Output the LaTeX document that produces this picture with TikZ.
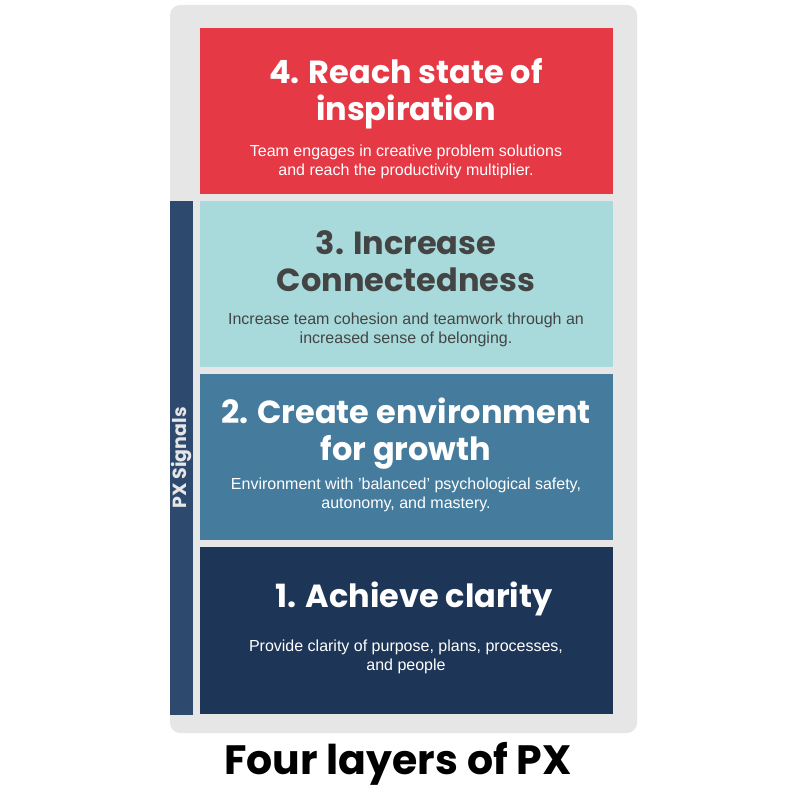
\documentclass[tikz,border=0pt]{standalone}
\usepackage{fontspec}
\setmainfont{Liberation Sans}
\newfontfamily\titlefont{Poppins}
\definecolor{cred}{HTML}{E63946}
\definecolor{cteal}{HTML}{A8DADC}
\definecolor{cblue}{HTML}{457B9D}
\definecolor{cnavy}{HTML}{1D3557}
\definecolor{cbar}{HTML}{2D4A6E}
\definecolor{cgray}{HTML}{E6E6E6}
\definecolor{cdark}{HTML}{444444}
\begin{document}
\begin{tikzpicture}[x=1pt,y=-1pt,
  layer/.style={minimum width=413pt,minimum height=166pt,anchor=north west,inner sep=0pt},
  head/.style={font=\titlefont\bfseries\fontsize{32}{37}\selectfont,align=center},
  body/.style={font=\fontsize{16}{18.5}\selectfont,align=center}]
\useasboundingbox (0,0) rectangle (800,800);
\fill[cgray,rounded corners=10pt] (170,5) rectangle (637,733);
\node[layer,fill=cred] (l4) at (200,28) {};
\node[layer,fill=cteal] (l3) at (200,201) {};
\node[layer,fill=cblue] (l2) at (200,374) {};
\node[layer,fill=cnavy,minimum height=167pt] (l1) at (200,547) {};
\node[fill=cbar,minimum width=23pt,minimum height=514pt,inner sep=0pt,anchor=north west] (bar) at (170,201) {};
\node[rotate=90,text=cgray,font=\titlefont\bfseries\fontsize{19}{22}\selectfont] (bl) at (181.5,458) {PX Signals};
\node[head,text=white] (h4) at (406,94) {4. Reach state of\\inspiration};
\node[body,text=white] (b4) at (406,162) {Team engages in creative problem solutions\\and reach the productivity multiplier.};
\node[head,text=cdark] (h3) at (406,261) {3. Increase\\Connectedness};
\node[body,text=cdark] (b3) at (406,330) {Increase team cohesion and teamwork through an\\increased sense of belonging.};
\node[head,text=white] (h2) at (406,434) {2. Create environment\\for growth};
\node[body,text=white] (b2) at (406,495) {Environment with 'balanced' psychological safety,\\autonomy, and mastery.};
\node[head,text=white] (h1) at (414,599) {1. Achieve clarity};
\node[body,text=white] (b1) at (406,657) {Provide clarity of purpose, plans, processes,\\and people};
\node[font=\titlefont\bfseries\fontsize{41}{45}\selectfont] (t) at (398,764) {Four layers of PX};
\end{tikzpicture}
\end{document}
